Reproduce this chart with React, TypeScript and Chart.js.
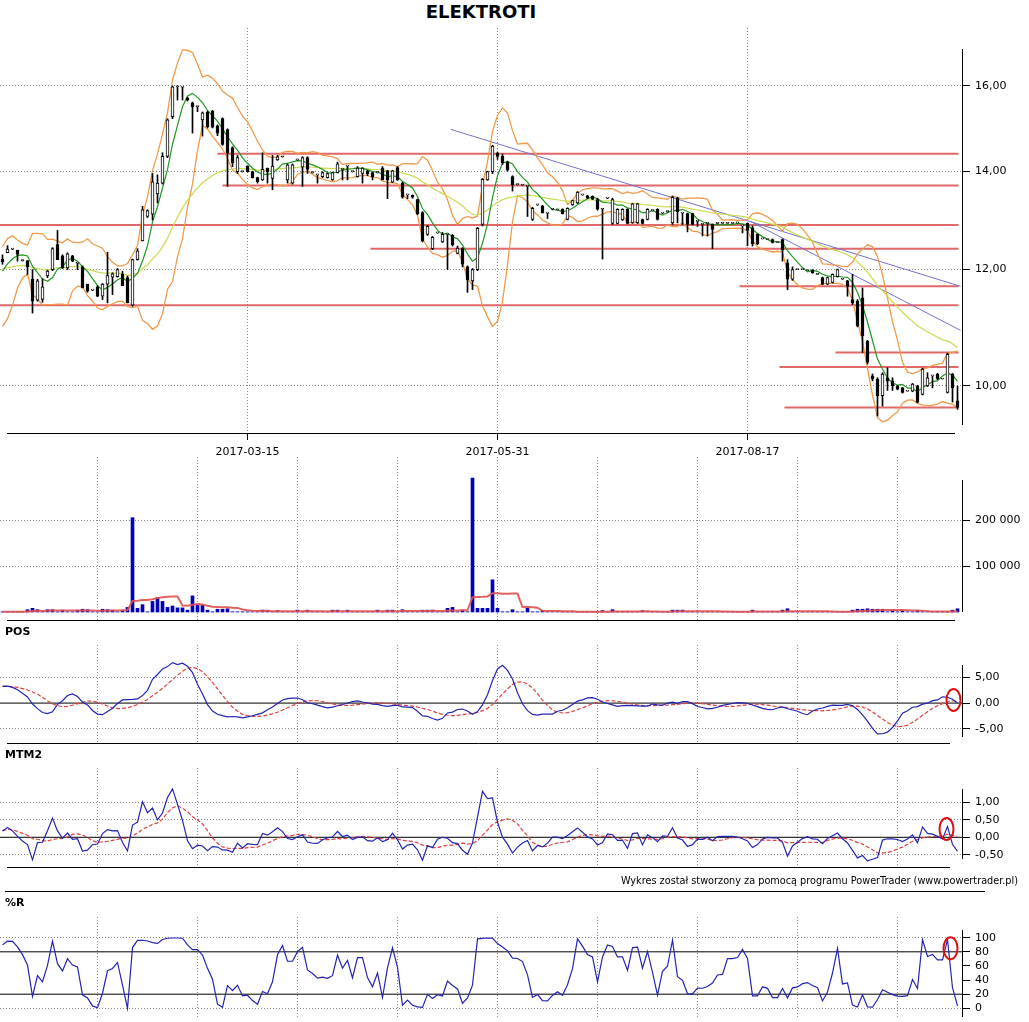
import React, { useEffect, useRef } from 'react';
import { Chart, registerables } from 'chart.js';

Chart.register(...registerables);
Chart.defaults.font.family = '"DejaVu Sans", Verdana, sans-serif';
Chart.defaults.font.size = 11;
Chart.defaults.color = '#000';

// ---------- price data (one entry per session) ----------
const open = [
  12.20, 12.32, 12.39, 12.37, 12.17, 12.17, 11.82, 11.44, 11.45, 11.88,
  12.00, 12.48, 12.26, 12.03, 12.26, 12.12, 12.05, 11.73, 11.62, 11.68,
  11.51, 11.73, 11.86, 11.87, 11.91, 11.85, 11.35, 12.19, 12.55, 13.04,
  13.09, 13.51, 13.74, 14.33, 15.25, 15.98, 15.97, 15.70, 15.58, 15.49,
  15.17, 15.36, 15.38, 15.03, 15.20, 14.94, 14.52, 13.99, 13.99, 14.11,
  13.99, 13.86, 13.81, 14.06, 13.84, 14.25, 14.32, 13.81, 13.74, 14.25,
  14.09, 14.30, 13.97, 13.92, 13.88, 13.86, 13.81, 13.97, 14.04, 14.11,
  13.99, 13.88, 13.95, 14.01, 13.97, 13.97, 14.07, 14.01, 13.76, 14.08,
  13.74, 13.49, 13.48, 13.39, 13.12, 12.68, 12.40, 12.71, 12.53, 12.68,
  12.66, 12.31, 12.40, 12.05, 11.79, 12.00, 12.88, 13.81, 13.99, 14.40,
  14.33, 14.20, 13.88, 13.71, 13.70, 13.67, 12.98, 13.28, 13.26, 13.11,
  13.19, 13.18, 13.19, 12.98, 13.28, 13.32, 13.49, 13.47, 13.46, 13.39,
  13.19, 13.42, 12.90, 12.90, 12.97, 13.19, 12.91, 12.91, 12.98, 12.98,
  13.16, 13.19, 13.11, 13.14, 12.91, 13.43, 13.11, 13.10, 13.10, 12.94,
  12.88, 12.90, 12.88, 12.90, 12.90, 12.90, 12.90, 12.91, 12.85, 12.90,
  12.81, 12.68, 12.59, 12.58, 12.58, 12.52, 12.58, 12.13, 11.82, 12.00,
  12.00, 11.98, 11.99, 11.91, 11.85, 11.73, 11.76, 11.87, 11.82, 11.79,
  11.45, 11.42, 11.48, 10.73, 10.16, 10.11, 9.85, 10.13, 10.08, 10.00,
  9.97, 9.92, 9.92, 10.00, 9.87, 10.00, 10.16, 10.19, 10.11, 9.90,
  10.19, 9.77,
];
const high = [
  12.28, 12.46, 12.40, 12.37, 12.18, 12.17, 12.00, 11.82, 11.83, 11.99,
  12.42, 12.76, 12.28, 12.32, 12.27, 12.12, 12.07, 11.73, 11.63, 11.70,
  11.74, 12.33, 11.94, 12.02, 11.97, 11.88, 12.20, 12.40, 13.25, 13.18,
  13.95, 13.92, 14.41, 15.20, 16.00, 16.00, 15.97, 15.72, 15.60, 15.49,
  15.36, 15.38, 15.40, 15.05, 15.22, 14.96, 14.55, 14.35, 14.00, 14.12,
  14.00, 13.87, 14.41, 14.07, 14.35, 14.35, 14.33, 14.16, 14.16, 14.26,
  14.32, 14.32, 13.98, 13.92, 13.99, 13.96, 13.98, 14.20, 14.04, 14.11,
  14.00, 14.10, 14.08, 14.02, 13.98, 13.98, 14.10, 14.02, 14.02, 14.10,
  13.76, 13.49, 13.49, 13.40, 13.14, 12.86, 12.64, 12.72, 12.72, 12.68,
  12.68, 12.45, 12.42, 12.07, 12.02, 12.82, 13.84, 14.00, 14.58, 14.42,
  14.38, 14.22, 13.90, 13.72, 13.71, 13.69, 13.23, 13.29, 13.27, 13.11,
  13.20, 13.19, 13.20, 13.22, 13.38, 13.56, 13.50, 13.48, 13.47, 13.42,
  13.20, 13.43, 13.42, 13.20, 13.20, 13.20, 13.31, 13.31, 12.99, 13.20,
  13.17, 13.20, 13.12, 13.15, 13.46, 13.44, 13.11, 13.11, 13.11, 12.94,
  12.88, 12.90, 12.89, 12.91, 12.90, 12.90, 12.90, 12.91, 12.85, 12.91,
  12.85, 12.69, 12.59, 12.58, 12.59, 12.52, 12.59, 12.19, 12.05, 12.00,
  12.00, 11.98, 12.00, 11.91, 11.86, 11.86, 11.92, 12.01, 11.82, 11.80,
  11.91, 11.45, 11.66, 10.74, 10.19, 10.13, 10.21, 10.29, 10.13, 10.01,
  9.98, 9.92, 10.04, 10.01, 10.28, 10.21, 10.16, 10.20, 10.11, 10.53,
  10.20, 10.00,
];
const low = [
  12.10, 12.32, 12.38, 12.16, 12.16, 11.91, 11.21, 11.42, 11.40, 11.85,
  11.98, 12.19, 12.02, 12.00, 12.15, 12.00, 11.66, 11.58, 11.61, 11.50,
  11.45, 11.39, 11.54, 11.86, 11.70, 11.39, 11.33, 12.18, 12.55, 13.02,
  12.97, 13.32, 13.72, 14.30, 15.20, 15.65, 15.65, 15.63, 14.86, 15.37,
  14.79, 14.98, 14.98, 14.80, 14.58, 13.67, 14.10, 13.95, 13.98, 13.98,
  13.85, 13.74, 13.80, 13.74, 13.60, 14.24, 14.31, 13.74, 13.72, 14.24,
  13.67, 13.95, 13.96, 13.74, 13.86, 13.85, 13.80, 13.96, 13.81, 13.81,
  13.98, 13.87, 13.74, 13.90, 13.81, 13.96, 13.81, 13.41, 13.75, 13.80,
  13.42, 13.41, 13.42, 13.08, 12.53, 12.66, 12.38, 12.70, 12.52, 12.00,
  12.45, 12.30, 12.05, 11.58, 11.63, 11.98, 12.85, 13.80, 13.95, 14.26,
  14.15, 14.00, 13.57, 13.70, 13.69, 13.04, 12.96, 13.27, 13.11, 13.00,
  13.18, 13.17, 13.09, 12.97, 13.27, 13.31, 13.48, 13.41, 13.39, 13.17,
  12.20, 13.41, 12.88, 12.89, 12.96, 12.89, 12.90, 12.90, 12.89, 12.97,
  13.15, 12.97, 13.10, 13.13, 12.88, 12.91, 12.88, 12.73, 12.87, 12.84,
  12.65, 12.65, 12.40, 12.89, 12.90, 12.90, 12.90, 12.91, 12.71, 12.46,
  12.45, 12.48, 12.59, 12.58, 12.51, 12.52, 12.16, 11.63, 11.80, 12.00,
  12.00, 11.98, 11.93, 11.91, 11.72, 11.72, 11.75, 11.86, 11.82, 11.51,
  11.36, 10.97, 10.54, 10.35, 10.08, 9.54, 9.69, 9.93, 9.93, 9.94,
  9.89, 9.92, 9.91, 9.74, 9.86, 9.99, 9.97, 10.10, 10.11, 9.89,
  9.75, 9.64,
];
const close = [
  12.15, 12.39, 12.39, 12.29, 12.17, 12.05, 11.42, 11.79, 11.68, 11.97,
  12.40, 12.19, 12.03, 12.30, 12.16, 12.12, 11.66, 11.60, 11.62, 11.51,
  11.73, 11.89, 11.92, 12.00, 11.70, 11.39, 12.19, 12.36, 13.18, 13.16,
  13.77, 13.74, 14.33, 15.17, 15.98, 15.98, 15.97, 15.65, 15.49, 15.49,
  15.34, 15.01, 15.00, 14.86, 14.60, 14.41, 14.18, 14.30, 13.99, 13.99,
  13.86, 13.77, 14.04, 13.99, 14.11, 14.32, 14.32, 14.14, 14.14, 14.25,
  14.30, 14.04, 13.97, 13.92, 13.97, 13.95, 13.97, 14.16, 14.04, 14.11,
  13.99, 14.07, 14.07, 13.94, 13.88, 13.97, 13.81, 13.81, 14.01, 13.81,
  13.44, 13.49, 13.44, 13.10, 12.55, 12.84, 12.62, 12.71, 12.68, 12.68,
  12.48, 12.41, 12.10, 11.81, 12.00, 12.80, 13.82, 13.99, 14.56, 14.33,
  14.18, 14.02, 13.71, 13.71, 13.70, 13.67, 13.21, 13.28, 13.12, 13.11,
  13.19, 13.18, 13.10, 13.21, 13.37, 13.55, 13.49, 13.42, 13.40, 13.19,
  13.19, 13.42, 13.39, 13.19, 13.19, 12.90, 13.30, 13.30, 12.90, 13.19,
  13.16, 12.98, 13.11, 13.14, 13.44, 13.14, 13.11, 12.88, 12.88, 12.94,
  12.88, 12.90, 12.78, 12.90, 12.90, 12.90, 12.90, 12.91, 12.85, 12.76,
  12.49, 12.49, 12.59, 12.58, 12.52, 12.52, 12.37, 11.82, 12.00, 12.00,
  12.00, 11.98, 11.94, 11.91, 11.73, 11.85, 11.91, 12.00, 11.82, 11.69,
  11.39, 10.99, 10.82, 10.38, 10.11, 9.85, 10.19, 10.08, 10.00, 9.95,
  9.90, 9.92, 10.03, 9.75, 10.27, 10.13, 10.16, 10.11, 10.11, 10.51,
  9.97, 9.67,
];
// estimated sessions just before the visible range (indicator warm-up)
const preCloses = [11.10, 11.15, 11.20, 11.25, 11.35, 11.70, 11.90, 12.00, 12.10];
const preHighs = [11.20, 11.25, 11.30, 11.35, 11.50, 11.80, 12.00, 12.10, 12.20];
const preLows = [11.00, 11.05, 11.10, 11.15, 11.25, 11.40, 11.75, 11.90, 12.00];
const slowMaStart = 12.0;
const volume = [
  500, 500, 500, 500, 500, 5000, 8000, 5000, 500, 5000,
  5000, 500, 4000, 500, 500, 4000, 6000, 5000, 500, 500,
  6000, 5000, 4000, 500, 4000, 10000, 205000, 8000, 16000, 500,
  23000, 31000, 23000, 10000, 13000, 9000, 9000, 4000, 35000, 15000,
  15000, 4000, 500, 6000, 6000, 7000, 500, 500, 500, 500,
  500, 500, 4000, 4000, 500, 3000, 500, 500, 500, 4000,
  500, 4000, 500, 500, 500, 500, 4000, 4000, 500, 4000,
  500, 500, 500, 500, 500, 4000, 500, 4000, 4000, 500,
  5000, 500, 500, 500, 4000, 4000, 4000, 500, 500, 8000,
  10000, 500, 4000, 500, 291000, 8000, 8000, 8000, 70000, 8000,
  500, 500, 5000, 500, 500, 8000, 500, 500, 3000, 500,
  500, 500, 500, 500, 500, 500, 500, 500, 500, 500,
  3000, 500, 5000, 500, 500, 500, 500, 500, 3000, 500,
  500, 500, 500, 500, 4000, 4000, 4000, 500, 500, 500,
  500, 500, 500, 500, 500, 500, 500, 500, 500, 500,
  4000, 500, 500, 500, 500, 500, 4000, 7000, 500, 500,
  500, 500, 500, 500, 500, 500, 500, 500, 500, 500,
  4000, 6000, 6000, 7000, 6000, 6000, 6000, 500, 4000, 500,
  3000, 500, 500, 3000, 500, 500, 500, 500, 500, 500,
  4000, 7000,
];

// ---------- axes / annotations ----------
const xTickIdx = [49, 99, 149];
const xTickLabels = ['2017-03-15', '2017-05-31', '2017-08-17'];
const panelGridIdx = [19, 39, 59, 79, 99, 119, 139, 159, 179];
const priceTicks = [10, 12, 14, 16];
const volumeTicks = [100000, 200000];
const posTicks = [-5, 0, 5];
const mtmTicks = [-0.5, 0, 0.5, 1];
const wprTicks = [0, 20, 40, 60, 80, 100];
const levelValues = [14.39, 13.69, 12.87, 12.40, 11.69, 11.35, 10.54, 10.30, 9.67];
const levelStartIdx = [43, 44, -0.5, 73.6, 147.4, -0.5, 166.6, 155.4, 156.4];
const levelEndIdx = 191.2;
const trendStartIdx = [89.6, 149.6];
const trendStartVal = [14.95, 12.94];
const trendEndIdx = [191.6, 191.6];
const trendEndVal = [11.69, 10.91];
const posMarker = [190.2, 0.6];
const mtmMarker = [188.8, 0.24];
const wprMarker = [189.6, 85];

// ---------- derived indicators ----------
const P = preCloses.length;
const idx = close.map((_, i) => i);
const X_MIN = -0.5;
const X_MAX = 191.9;
const extC = [...preCloses, ...close];
const extH = [...preHighs, ...high];
const extL = [...preLows, ...low];

function smaAt(arr: number[], n: number, j: number) {
  const s = Math.max(0, j - n + 1);
  let sum = 0;
  for (let k = s; k <= j; k++) sum += arr[k];
  return sum / (j - s + 1);
}
function stdAt(arr: number[], n: number, j: number) {
  const s = Math.max(0, j - n + 1);
  const m = smaAt(arr, n, j);
  let sum = 0;
  for (let k = s; k <= j; k++) sum += (arr[k] - m) * (arr[k] - m);
  return Math.sqrt(sum / (j - s + 1));
}
const pts = (vals: number[]) => vals.map((y, i) => ({ x: i, y }));

const BB_N = 8;
const bbUpper = pts(idx.map((i) => smaAt(extC, BB_N, i + P) + 2 * stdAt(extC, BB_N, i + P)));
const bbLower = pts(idx.map((i) => smaAt(extC, BB_N, i + P) - 2 * stdAt(extC, BB_N, i + P)));
const fastMa = idx.map((i) => smaAt(extC, 5, i + P));
const slowMaVals: number[] = [];
{
  let e = slowMaStart;
  const a = 2 / 31;
  for (const c of close) { e = e + a * (c - e); slowMaVals.push(e); }
}
const volMa = pts(idx.map((i) => smaAt(volume, 10, i)));
const posRaw = idx.map((i) => 100 * (smaAt(extC, 5, i + P) / smaAt(extC, 10, i + P) - 1));
const posSig = idx.map((i) => smaAt(posRaw, 8, i));
const mtmRaw = idx.map((i) => close[i] - fastMa[i]);
const mtmSig = idx.map((i) => smaAt(mtmRaw, 8, i));
const wpr = idx.map((i) => {
  const j = i + P;
  let hh = -Infinity, ll = Infinity;
  for (let k = Math.max(0, j - 9); k <= j; k++) { hh = Math.max(hh, extH[k]); ll = Math.min(ll, extL[k]); }
  return hh === ll ? 50 : ((close[i] - ll) / (hh - ll)) * 100;
});

// ---------- helpers ----------
const framePlugin = {
  id: 'frame',
  afterDraw(chart: any, _a: any, opts: any) {
    const { ctx, chartArea } = chart;
    ctx.save();
    ctx.strokeStyle = '#000';
    ctx.lineWidth = 1;
    if (opts.axis) {
      const x = Math.round(chartArea.right) + 0.5;
      ctx.beginPath();
      ctx.moveTo(x, chartArea.top + opts.axis[0]);
      ctx.lineTo(x, chartArea.bottom - opts.axis[1]);
      ctx.stroke();
    }
    if (opts.base) {
      const y = Math.round(chartArea.bottom) + 0.5;
      ctx.beginPath();
      ctx.moveTo(opts.base[0], y);
      ctx.lineTo(opts.base[1], y);
      ctx.stroke();
    }
    if (opts.marker) {
      const px = chart.scales.x.getPixelForValue(opts.marker[0]);
      const py = chart.scales.y.getPixelForValue(opts.marker[1]);
      ctx.strokeStyle = '#E01010';
      ctx.lineWidth = 2;
      ctx.beginPath();
      ctx.ellipse(px, py, 7, 11, 0, 0, Math.PI * 2);
      ctx.stroke();
    }
    ctx.restore();
  },
};

const line = (data: any, color: string, width: number, extra: any = {}) => ({
  type: 'line', data, borderColor: color, borderWidth: width, pointRadius: 0,
  fill: false, tension: 0, order: 5, ...extra,
});
const hline = (v: number, color = '#000', w = 1) =>
  line([{ x: X_MIN, y: v }, { x: X_MAX, y: v }], color, w, { order: 9 });

const comma2 = (v: number) => v.toFixed(2).replace('.', ',');
const spaced = (v: number) => String(v).replace(/\B(?=(\d{3})+(?!\d))/g, ' ');

function makeOptions(p: any) {
  return {
    responsive: false,
    animation: false,
    events: [],
    layout: { padding: { top: 16, left: 0, right: 0, bottom: 0 } },
    plugins: { legend: { display: false }, title: { display: false }, tooltip: { enabled: false }, frame: p.frame },
    scales: {
      x: {
        type: 'linear', min: X_MIN, max: X_MAX, offset: false,
        afterBuildTicks: (s: any) => { s.ticks = p.xTicks.map((v: number) => ({ value: v })); },
        afterFit: (s: any) => { s.height = p.xH; },
        ticks: p.xLabels
          ? { display: true, autoSkip: false, maxRotation: 0, padding: 6, font: { size: 11 },
              callback: (v: number) => p.xLabels[p.xTicks.indexOf(v)] ?? '' }
          : { display: false },
        grid: { display: true, offset: false, color: '#8a8a8a', drawTicks: !!p.xLabels, tickLength: 7, tickColor: '#000' },
        border: { display: false, dash: [1, 2] },
      },
      y: {
        type: p.yType || 'linear', position: 'right', min: p.yMin, max: p.yMax,
        afterBuildTicks: (s: any) => { s.ticks = p.yTicks.map((v: number) => ({ value: v })); },
        afterFit: (s: any) => { s.width = 67; },
        ticks: { autoSkip: false, padding: 5, font: { size: 11 }, callback: p.yFmt },
        grid: { display: true, color: p.gridColor || '#8a8a8a', drawTicks: true, tickLength: 8, tickColor: '#000' },
        border: { display: false, dash: [1, 2] },
      },
    },
  };
}

const W = 1029;
const panels = {
  main: { top: 12, areaTop: 28, areaBottom: 433, xH: 32 },
  vol: { top: 441, areaTop: 457, areaBottom: 620, xH: 14 },
  pos: { top: 629, areaTop: 645, areaBottom: 743, xH: 14 },
  mtm: { top: 752, areaTop: 768, areaBottom: 867, xH: 14 },
  wpr: { top: 901, areaTop: 917, areaBottom: 1017, xH: 14 },
};
const hOf = (p: any) => p.areaBottom + p.xH - p.top;

function mainConfig() {
  const bodies = {
    type: 'bar', order: 0, grouped: false, barThickness: 3, minBarLength: 1,
    data: idx.map((i) => ({ x: i, y: [open[i], close[i]] })),
    backgroundColor: idx.map((i) => (close[i] >= open[i] ? '#ffffff' : '#000000')),
    borderColor: '#000', borderWidth: 1, borderSkipped: false,
  };
  const wicks = {
    type: 'bar', order: 1, grouped: false, barThickness: 1,
    data: idx.map((i) => ({ x: i, y: [low[i], high[i]] })),
    backgroundColor: '#000', borderWidth: 0,
  };
  const levels = levelValues.map((v, k) =>
    line([{ x: levelStartIdx[k], y: v }, { x: levelEndIdx, y: v }], 'rgba(218,78,78,0.85)', 2, { order: 8 }));
  const trends = trendStartIdx.map((s, k) =>
    line([{ x: s, y: trendStartVal[k] }, { x: trendEndIdx[k], y: trendEndVal[k] }], '#7272CC', 1, { order: 7 }));
  return {
    type: 'line',
    data: {
      datasets: [
        bodies, wicks,
        line(pts(fastMa), '#229922', 1.2, { order: 2 }),
        line(pts(slowMaVals), '#CCDA4E', 1.2, { order: 3 }),
        line(bbUpper, '#F09A4A', 1.3, { order: 4 }),
        line(bbLower, '#F09A4A', 1.3, { order: 4 }),
        ...trends, ...levels,
      ],
    },
    options: makeOptions({
      xTicks: xTickIdx, xLabels: xTickLabels, xH: panels.main.xH,
      yType: 'logarithmic', yMin: 9.29, yMax: 17.52, yTicks: priceTicks, yFmt: comma2,
      frame: { axis: [21, 8], base: [7, 955] },
    }),
    plugins: [framePlugin],
  };
}

function volConfig() {
  return {
    type: 'line',
    data: {
      datasets: [
        { type: 'bar', order: 1, grouped: false, barThickness: 3,
          data: idx.map((i) => ({ x: i, y: volume[i] })), backgroundColor: '#0000BB', borderWidth: 0 },
        line(volMa, 'rgba(225,80,80,0.9)', 2, { order: 0 }),
      ],
    },
    options: makeOptions({
      xTicks: panelGridIdx, xH: panels.vol.xH,
      yMin: -17391, yMax: 336957, yTicks: volumeTicks, yFmt: spaced,
      frame: { axis: [23, 8], base: [7, 955] },
    }),
    plugins: [framePlugin],
  };
}

function posConfig() {
  return {
    type: 'line',
    data: {
      datasets: [
        line(pts(posRaw), '#2424B4', 1.2, { order: 1 }),
        line(pts(posSig), '#E04040', 1.2, { order: 2, borderDash: [4, 2] }),
        hline(0),
      ],
    },
    options: makeOptions({
      xTicks: panelGridIdx, xH: panels.pos.xH,
      yMin: -7.8, yMax: 11.36, yTicks: posTicks, yFmt: comma2,
      gridColor: (c: any) => (c.tick && c.tick.value === 0 ? 'rgba(0,0,0,0)' : '#8a8a8a'),
      frame: { axis: [20, 6], base: [7, 950], marker: posMarker },
    }),
    plugins: [framePlugin],
  };
}

function mtmConfig() {
  return {
    type: 'line',
    data: {
      datasets: [
        line(pts(mtmRaw), '#2424B4', 1.2, { order: 1 }),
        line(pts(mtmSig), '#E04040', 1.2, { order: 2, borderDash: [4, 2] }),
        hline(0),
      ],
    },
    options: makeOptions({
      xTicks: panelGridIdx, xH: panels.mtm.xH,
      yMin: -0.849, yMax: 1.98, yTicks: mtmTicks, yFmt: comma2,
      gridColor: (c: any) => (c.tick && c.tick.value === 0 ? 'rgba(0,0,0,0)' : '#8a8a8a'),
      frame: { axis: [21, 8], base: [7, 950], marker: mtmMarker },
    }),
    plugins: [framePlugin],
  };
}

function wprConfig() {
  return {
    type: 'line',
    data: {
      datasets: [
        line(pts(wpr), '#2424B4', 1.2, { order: 1 }),
        hline(80), hline(20),
      ],
    },
    options: makeOptions({
      xTicks: panelGridIdx, xH: panels.wpr.xH,
      yMin: -12.3, yMax: 129.3, yTicks: wprTicks, yFmt: (v: number) => String(v),
      gridColor: (c: any) => (c.tick && (c.tick.value === 0 || c.tick.value === 100) ? '#8a8a8a' : 'rgba(0,0,0,0)'),
      frame: { axis: [13, 0], marker: wprMarker },
    }),
    plugins: [framePlugin],
  };
}

const labelStyle: any = {
  position: 'absolute', left: 5, fontFamily: '"DejaVu Sans", Verdana, sans-serif',
  fontWeight: 'bold', fontSize: 11, lineHeight: '14px', color: '#000',
};

export default function App() {
  const r0 = useRef<HTMLCanvasElement>(null);
  const r1 = useRef<HTMLCanvasElement>(null);
  const r2 = useRef<HTMLCanvasElement>(null);
  const r3 = useRef<HTMLCanvasElement>(null);
  const r4 = useRef<HTMLCanvasElement>(null);
  useEffect(() => {
    const charts = [
      new Chart(r0.current as any, mainConfig() as any),
      new Chart(r1.current as any, volConfig() as any),
      new Chart(r2.current as any, posConfig() as any),
      new Chart(r3.current as any, mtmConfig() as any),
      new Chart(r4.current as any, wprConfig() as any),
    ];
    return () => charts.forEach((c) => c.destroy());
  }, []);
  const cv = (ref: any, p: any) => (
    <canvas ref={ref} width={W} height={hOf(p)}
      style={{ position: 'absolute', left: 0, top: p.top, width: W, height: hOf(p) }} />
  );
  return (
    <div style={{ position: 'fixed', left: 0, top: 0, width: W, height: 1022, background: '#fff', overflow: 'hidden' }}>
      <div style={{ position: 'absolute', left: 0, top: 1, width: 962, textAlign: 'center',
        fontFamily: '"DejaVu Sans", Verdana, sans-serif', fontWeight: 'bold', fontSize: 18, lineHeight: '22px' }}>
        ELEKTROTI
      </div>
      {cv(r0, panels.main)}
      {cv(r1, panels.vol)}
      {cv(r2, panels.pos)}
      {cv(r3, panels.mtm)}
      {cv(r4, panels.wpr)}
      <div style={{ ...labelStyle, top: 625 }}>POS</div>
      <div style={{ ...labelStyle, top: 748 }}>MTM2</div>
      <div style={{ ...labelStyle, top: 896 }}>%R</div>
      <div style={{ position: 'absolute', left: 0, top: 874, width: 1018, textAlign: 'right',
        fontFamily: '"Liberation Sans Narrow", "DejaVu Sans Condensed", sans-serif', fontSize: 10.8, lineHeight: '13px' }}>
        Wykres został stworzony za pomocą programu PowerTrader (www.powertrader.pl)
      </div>
      <div style={{ position: 'absolute', left: 5, top: 891, width: 980, height: 1, background: '#000' }} />
    </div>
  );
}
